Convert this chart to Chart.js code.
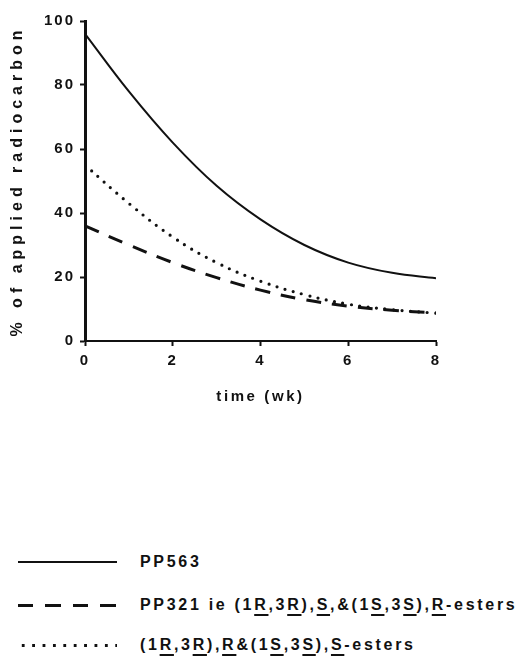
<!DOCTYPE html>
<html>
<head>
<meta charset="utf-8">
<script src="https://cdn.jsdelivr.net/npm/chart.js@4/dist/chart.umd.min.js"></script>
<style>
  html, body { margin: 0; padding: 0; background: #fff; }
  body { width: 523px; height: 658px; position: relative; overflow: hidden; font-family: "Liberation Sans", Arial, sans-serif; color: #111; }
  #wrap { position: absolute; left: 0; top: 0; width: 523px; height: 420px; }
  .row { position: absolute; left: 0; width: 523px; height: 20px; }
  .sample { position: absolute; left: 18px; width: 99px; }
  .solid { height: 2px; background: #111; top: 9px; }
  .dashed { height: 3px; top: 9px; background: repeating-linear-gradient(to right, #111 0 15px, transparent 15px 27.5px); }
  .dotted { height: 3px; top: 9px; background-image: radial-gradient(circle, #111 1.4px, transparent 1.6px); background-size: 10.4px 3px; background-repeat: repeat-x; }
  .lbl { position: absolute; left: 140px; top: 0; line-height: 20px; font-size: 16px; font-weight: bold; letter-spacing: 2.7px; white-space: nowrap; }
  .lbl u { text-decoration-thickness: 1.5px; text-underline-offset: 4px; }
</style>
</head>
<body>
<div id="wrap"><canvas id="c" width="523" height="420"></canvas></div>

<div class="row" style="top:552px"><div class="sample solid"></div><div class="lbl">PP563</div></div>
<div class="row" style="top:595px"><div class="sample dashed"></div><div class="lbl">PP321 ie (1<u>R</u>,3<u>R</u>),<u>S</u>,&amp;(1<u>S</u>,3<u>S</u>),<u>R</u>-esters</div></div>
<div class="row" style="top:635px"><div class="sample dotted"></div><div class="lbl">(1<u>R</u>,3<u>R</u>),<u>R</u>&amp;(1<u>S</u>,3<u>S</u>),<u>S</u>-esters</div></div>

<script>
// ---- data ----
const weeks    = [0, 1, 2, 3, 4, 5, 6, 7, 8];
const pp563    = [96, 78, 62, 48.5, 38, 30, 24.5, 21.3, 19.6];
const pp321    = [36, 30, 24.5, 19.8, 15.9, 12.9, 10.9, 9.6, 8.8];
const rrEsters = [55, 43, 32.5, 24.5, 18.7, 14.5, 11.5, 9.8, 8.7];
const xTicks   = [0, 2, 4, 6, 8];
const yTicks   = [0, 20, 40, 60, 80, 100];
const xTitle   = 'time (wk)';
const yTitle   = '% of applied radiocarbon';

const ink = '#111';
const fam = '"Liberation Sans", Arial, sans-serif';

// letter spacing for axis texts (the reference has widely spaced lettering)
const LS = Chart.LinearScale.prototype;
const origTitle = LS.drawTitle;
LS.drawTitle = function () {
  const ctx = this.ctx; ctx.save();
  ctx.letterSpacing = this.axis === 'y' ? '5px' : '2.6px';
  origTitle.apply(this, arguments); ctx.restore();
};
const origLabels = LS.drawLabels;
LS.drawLabels = function () {
  const ctx = this.ctx; ctx.save();
  ctx.letterSpacing = '2px';
  origLabels.apply(this, arguments); ctx.restore();
};

const pts = (ys) => weeks.map((w, i) => ({ x: w, y: ys[i] }));

new Chart(document.getElementById('c'), {
  type: 'line',
  data: {
    datasets: [
      { label: 'PP563', data: pts(pp563), borderColor: ink, borderWidth: 2, pointRadius: 0, tension: 0.4, fill: false },
      { label: 'PP321', data: pts(pp321), borderColor: ink, borderWidth: 3, borderDash: [15, 11], pointRadius: 0, tension: 0.4, fill: false },
      { label: 'RR esters', data: pts(rrEsters), borderColor: ink, borderWidth: 3.2, borderDash: [0, 8.5], borderCapStyle: 'round', pointRadius: 0, tension: 0.4, fill: false }
    ]
  },
  options: {
    responsive: false,
    animation: false,
    layout: { padding: { top: 21, right: 87, bottom: 14, left: 0 } },
    plugins: { legend: { display: false }, tooltip: { enabled: false } },
    scales: {
      x: {
        type: 'linear', min: 0, max: 8,
        afterBuildTicks: (s) => { s.ticks = xTicks.map(v => ({ value: v })); },
        afterFit: (s) => { s.height = 65; },
        border: { color: ink, width: 2 },
        grid: { display: true, drawOnChartArea: false, drawTicks: true, tickLength: 5, tickWidth: 2, color: ink },
        ticks: { color: ink, padding: 6, font: { family: fam, size: 15, weight: 'bold' } },
        title: { display: true, text: xTitle, color: ink, padding: { top: 0, bottom: 0 }, font: { family: fam, size: 15, weight: 'bold' } }
      },
      y: {
        type: 'linear', min: 0, max: 100,
        afterBuildTicks: (s) => { s.ticks = yTicks.map(v => ({ value: v })); },
        afterFit: (s) => { s.width = 85; },
        border: { color: ink, width: 3 },
        grid: { display: true, drawOnChartArea: false, drawTicks: true, tickLength: 5, tickWidth: 2, color: ink },
        ticks: { color: ink, padding: 5, font: { family: fam, size: 15, weight: 'bold' } },
        title: { display: true, text: yTitle, color: ink, padding: { top: 8, bottom: 0 }, font: { family: fam, size: 16, weight: 'bold' } }
      }
    }
  }
});
</script>
</body>
</html>
